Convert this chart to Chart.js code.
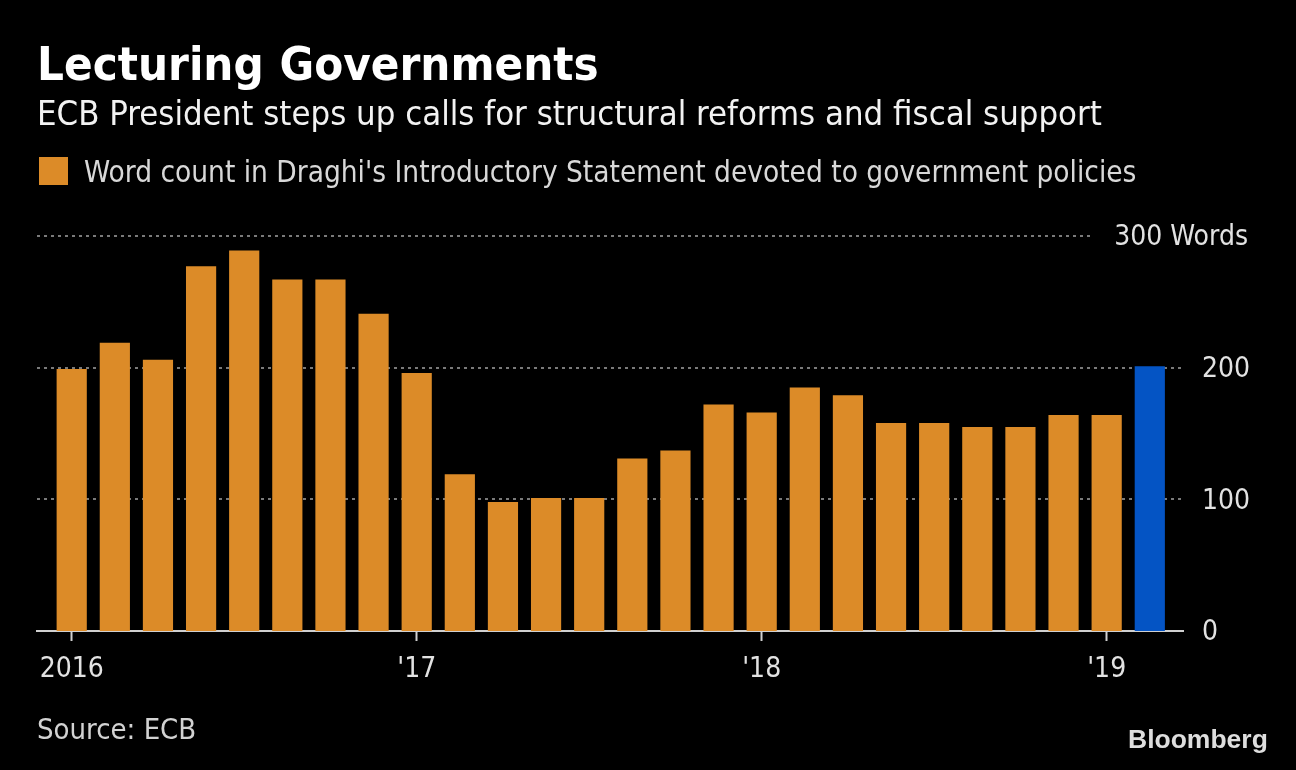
<!DOCTYPE html>
<html>
<head>
<meta charset="utf-8">
<script src="https://cdn.jsdelivr.net/npm/chart.js@4.4.1/dist/chart.umd.min.js"></script>
<style>
	html, body { margin: 0; padding: 0; background: #000; }
	#wrap { position: relative; width: 1296px; height: 770px; background: #000; overflow: hidden; }
	#wrap canvas { position: absolute; left: 0; top: 0; }
	.txt { position: absolute; white-space: nowrap; line-height: 1; font-family: 'DejaVu Sans Condensed', 'DejaVu Sans', sans-serif; font-stretch: condensed; }
	#title { left: 37px; top: 40px; font-size: 47px; font-weight: bold; color: #fff; word-spacing: 1px; }
	#subtitle { left: 37px; top: 96px; font-size: 34.4px; color: #f2f2f2; }
	#legend { left: 39px; top: 157px; font-size: 29.5px; color: #d8d8d8; }
	#legend i { display: inline-block; width: 29px; height: 28px; margin-right: 16px; vertical-align: -3px; }
	#source { left: 37px; top: 715px; font-size: 29px; color: #d2d2d2; }
	#brand { left: 1128px; top: 726px; font-size: 26.5px; font-weight: bold; color: #dedede; font-family: 'Liberation Sans', Arial, sans-serif; font-stretch: normal; }
</style>
</head>
<body>
<div id="wrap">
	<canvas id="chart" width="1296" height="770"></canvas>
	<div class="txt" id="title">Lecturing Governments</div>
	<div class="txt" id="subtitle">ECB President steps up calls for structural reforms and fiscal support</div>
	<div class="txt" id="legend"><i id="legend-box"></i><span id="legend-label"></span></div>
	<div class="txt" id="source">Source: ECB</div>
	<div class="txt" id="brand">Bloomberg</div>
</div>
<script>
// ECB policy meetings, Jan 2016 - Mar 2019
const meetingDates = [
	'2016-01-21', '2016-03-10', '2016-04-21', '2016-06-02', '2016-07-21', '2016-09-08', '2016-10-20', '2016-12-08',
	'2017-01-19', '2017-03-09', '2017-04-27', '2017-06-08', '2017-07-20', '2017-09-07', '2017-10-26', '2017-12-14',
	'2018-01-25', '2018-03-08', '2018-04-26', '2018-06-14', '2018-07-26', '2018-09-13', '2018-10-25', '2018-12-13',
	'2019-01-24', '2019-03-07',
];
const wordCounts = [
	199, 219, 206, 277, 289, 267, 267, 241,
	196, 119, 98, 101, 101, 131, 137, 172,
	166, 185, 179, 158, 158, 155, 155, 164,
	164, 201,
];
const xTickIndexes = [ 0, 8, 16, 24 ];
const xTickLabels = [ '2016', "'17", "'18", "'19" ];
const yTicks = [ 0, 100, 200, 300 ];
const yUnit = 'Words';
const seriesLabel = "Word count in Draghi's Introductory Statement devoted to government policies";

const ORANGE = '#dc8b28';
const BLUE = '#0454c4';
const FONT = "'DejaVu Sans Condensed', 'DejaVu Sans', sans-serif";

document.getElementById( 'legend-box' ).style.background = ORANGE;
document.getElementById( 'legend-label' ).textContent = seriesLabel;

// dotted horizontal grid, the top one stops short of its label
const gridPlugin = {
	id: 'dottedGrid',
	beforeDatasetsDraw( chart ) {
		const { ctx, chartArea } = chart;
		const y = chart.scales.y;
		ctx.save();
		ctx.font = '28px ' + FONT;
		ctx.strokeStyle = '#7a7a7a';
		ctx.lineWidth = 2;
		ctx.setLineDash( [ 3, 4 ] );
		y.ticks.forEach( ( t, i ) => {
			if ( t.value === 0 ) return;
			const py = Math.round( y.getPixelForValue( t.value ) );
			let end = chartArea.right;
			if ( i === y.ticks.length - 1 ) {
				const w = ctx.measureText( t.value + ' ' + yUnit ).width;
				end = chartArea.right + 65 - w - 22;
			}
			ctx.beginPath();
			ctx.moveTo( chartArea.left, py );
			ctx.lineTo( end, py );
			ctx.stroke();
		} );
		ctx.restore();
	},
	afterDraw( chart ) {
		const { ctx, chartArea } = chart;
		const y = chart.scales.y;
		ctx.save();
		ctx.font = '28px ' + FONT;
		ctx.fillStyle = '#e2e2e2';
		ctx.textBaseline = 'middle';
		y.ticks.forEach( ( t, i ) => {
			const py = y.getPixelForValue( t.value ) + 2;
			if ( i === y.ticks.length - 1 ) {
				ctx.textAlign = 'right';
				ctx.fillText( t.value + ' ' + yUnit, chartArea.right + 65, py );
			} else {
				ctx.textAlign = 'left';
				ctx.fillText( String( t.value ), chartArea.right + 19, py );
			}
		} );
		ctx.restore();
	},
};

new Chart( document.getElementById( 'chart' ), {
	type: 'bar',
	data: {
		labels: meetingDates,
		datasets: [
			{
				label: seriesLabel,
				data: wordCounts.map( ( v, i ) => ( { x: i, y: v } ) ),
				backgroundColor: ( c ) =>
					c.dataIndex === wordCounts.length - 1 ? BLUE : ORANGE,
				barPercentage: 0.7,
				categoryPercentage: 1,
			},
		],
	},
	options: {
		responsive: false,
		animation: false,
		layout: { padding: { left: 37, top: 236, right: 0, bottom: 79 } },
		plugins: {
			legend: { display: false },
			tooltip: { enabled: false },
		},
		scales: {
			x: {
				type: 'linear',
				min: -0.805,
				max: 25.77,
				offset: false,
				afterBuildTicks: ( s ) => {
					s.ticks = xTickIndexes.map( ( v ) => ( { value: v } ) );
				},
				afterFit: ( s ) => {
					s.height = 60;
				},
				ticks: {
					autoSkip: false,
					maxRotation: 0,
					color: '#e2e2e2',
					font: { family: FONT, size: 28 },
					padding: 12,
					callback: ( v, i ) => xTickLabels[ i ],
				},
				grid: {
					offset: false,
					drawOnChartArea: false,
					drawTicks: true,
					tickLength: 10,
					tickWidth: 2,
					tickColor: '#d0d0d0',
				},
				border: { display: true, color: '#d0d0d0', width: 2 },
			},
			y: {
				position: 'right',
				min: 0,
				max: 300,
				afterBuildTicks: ( s ) => {
					s.ticks = yTicks.map( ( v ) => ( { value: v } ) );
				},
				afterFit: ( s ) => {
					s.width = 113;
				},
				ticks: { display: false },
				grid: { display: false },
				border: { display: false },
			},
		},
	},
	plugins: [ gridPlugin ],
} );
</script>
</body>
</html>
